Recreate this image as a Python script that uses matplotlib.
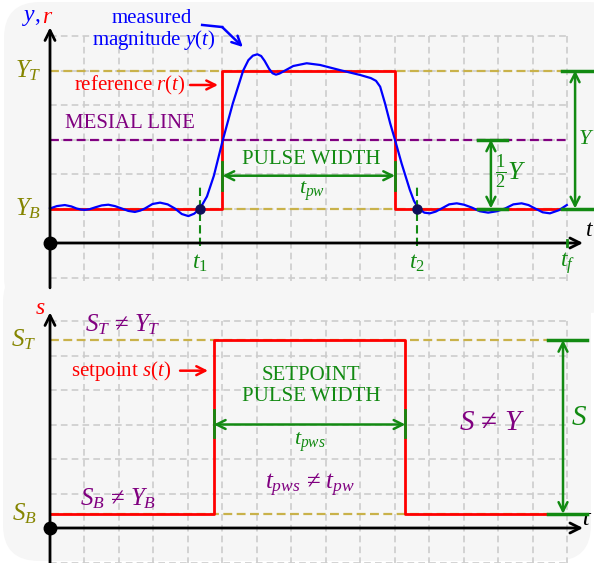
"""
Pulse width: measured magnitude y(t) vs reference r(t), and setpoint s(tau).
"""

import matplotlib.pyplot as plt
from matplotlib.patches import FancyBboxPatch

plt.rcParams['font.family'] = ['Liberation Serif', 'DejaVu Serif']
plt.rcParams['mathtext.fontset'] = 'custom'
plt.rcParams['mathtext.rm'] = 'Liberation Serif'
plt.rcParams['mathtext.it'] = 'Liberation Serif:italic'
plt.rcParams['mathtext.bf'] = 'Liberation Serif:bold'

# --- data (grid units) ---
Y_B, Y_MES, Y_T = 1, 3, 5
t1, t2, tf = 4.35, 10.65, 15

ref_t = [0, 5, 5, 10, 10, 15]
ref_r = [Y_B, Y_B, Y_T, Y_T, Y_B, Y_B]

meas_t = [0.00, 0.20, 0.43, 0.62, 0.77, 0.90, 1.01, 1.15, 1.30, 1.50, 1.69, 1.88,
          2.08, 2.27, 2.46, 2.62, 2.75, 2.97, 3.19, 3.41, 3.62, 3.82, 4.01, 4.18,
          4.35, 4.55, 4.75, 5.00, 5.30, 5.60, 5.75, 5.88, 6.01, 6.12, 6.22, 6.35,
          6.45, 6.55, 6.65, 6.76, 7.05, 7.44, 7.83, 8.41, 8.99, 9.30, 9.45, 9.57,
          9.71, 9.86, 10.00, 10.19, 10.43, 10.55, 10.68, 10.85, 11.01, 11.18, 11.35,
          11.57, 11.79, 12.00, 12.22, 12.46, 12.70, 12.95, 13.19, 13.43, 13.67,
          13.87, 14.06, 14.28, 14.49, 14.75, 14.98]
meas_y = [1.00, 1.07, 1.10, 1.06, 1.00, 0.97, 0.96, 0.98, 1.03, 1.09, 1.11, 1.07,
          1.00, 0.93, 0.90, 0.94, 1.00, 1.13, 1.17, 1.12, 1.00, 0.84, 0.78, 0.85,
          1.00, 1.35, 1.95, 2.95, 4.05, 5.00, 5.30, 5.43, 5.47, 5.42, 5.28, 5.05,
          4.92, 4.88, 4.91, 4.97, 5.13, 5.21, 5.16, 5.01, 4.87, 4.78, 4.70, 4.53,
          4.05, 3.47, 2.99, 2.31, 1.54, 1.22, 1.00, 0.88, 0.86, 0.91, 1.00,
          1.12, 1.15, 1.11, 1.03, 0.92, 0.88, 0.92, 1.00, 1.12, 1.15,
          1.10, 1.00, 0.89, 0.86, 0.95, 1.10]

S_B, S_T = 0.41, 5.45
sp_tau = [0, 4.75, 4.75, 10.3, 10.3, 15]
sp_s = [S_B, S_B, S_T, S_T, S_B, S_B]

# colours
BLUE = '#0000ff'
RED = '#ff0000'
GREEN = '#128a12'
PURPLE = '#800080'
OLIVE = '#858500'
GOLD = '#c9b24a'
GRID = '#cccccc'

W, H = 594, 563
UNIT = 34.5   # px per grid cell
X0 = 50       # px of t = 0

fig = plt.figure(figsize=(W / 100, H / 100), dpi=100)
fig.patch.set_facecolor('white')

# rounded light panels (overlapping, so no gap between them)
for (x, y, w, h) in [(0.04, 2.5, 6.2, 3.11), (0.03, 0.02, 5.88, 2.95)]:
    fig.patches.append(FancyBboxPatch((x, y), w, h, boxstyle='round,pad=0,rounding_size=0.36',
                                      transform=fig.dpi_scale_trans, facecolor='#f6f6f6',
                                      edgecolor='none', zorder=-5))


def panel(top_px, bot_px, axis_px):
    ax = fig.add_axes([0, 1 - bot_px / H, 1, (bot_px - top_px) / H])
    ax.set_xlim(-X0 / UNIT, (W - X0) / UNIT)
    ax.set_ylim((axis_px - bot_px) / UNIT, (axis_px - top_px) / UNIT)
    ax.axis('off')
    # dashed grid
    for k in range(16):
        ax.plot([k, k], [-1.1, 6], color=GRID, lw=1.2, ls=(0, (4, 2.5)), zorder=1)
    for j in range(-1, 7):
        ax.plot([0, 15], [j, j], color=GRID, lw=1.2, ls=(0, (4, 2.5)), zorder=1)
    # axes with arrows
    ax.annotate('', xy=(0, 6.25), xytext=(0, -1.3),
                arrowprops=dict(arrowstyle='->', lw=2, color='k', shrinkA=0, shrinkB=0,
                                mutation_scale=18), zorder=6)
    ax.annotate('', xy=(15.45, 0), xytext=(0, 0),
                arrowprops=dict(arrowstyle='->', lw=2, color='k', shrinkA=0, shrinkB=0,
                                mutation_scale=18), zorder=6)
    ax.plot(0, 0, 'o', color='k', ms=9, zorder=7)
    return ax


def dim_arrow(ax, x1, y1, x2, y2, lw=1.8):
    ax.annotate('', xy=(x2, y2), xytext=(x1, y1),
                arrowprops=dict(arrowstyle='<->', lw=lw, color=GREEN, shrinkA=0, shrinkB=0,
                                mutation_scale=16), zorder=5)


# ================= top panel =================
ax1 = panel(0, 287, 243)

ax1.plot([0, 15], [Y_T, Y_T], color=GOLD, lw=1.6, ls=(0, (4, 2)), zorder=2)
ax1.plot([0, 15], [Y_B, Y_B], color=GOLD, lw=1.6, ls=(0, (4, 2)), zorder=2)
ax1.plot([0, 15], [Y_MES, Y_MES], color=PURPLE, lw=1.6, ls=(0, (4, 2)), zorder=2)

ax1.plot(ref_t, ref_r, color=RED, lw=2, zorder=3)
ax1.plot(meas_t, meas_y, color=BLUE, lw=1.6, zorder=4, solid_joinstyle='round')

# pulse width
dim_arrow(ax1, 5, 1.95, 10, 1.95)
for x in (5, 10):
    ax1.plot([x, x], [1.54, 2.36], color=GREEN, lw=2, zorder=5)
ax1.text(7.57, 2.42, 'PULSE WIDTH', color=GREEN, fontsize=15, ha='center', va='center')
ax1.text(7.6, 1.5, '$t_{pw}$', color=GREEN, fontsize=16, ha='center', va='center')

# t1, t2, tf
for x, lab in [(t1, '$t_{\\mathit{1}}$'), (t2, '$t_{\\mathit{2}}$')]:
    ax1.plot([x, x], [-0.1, 1.63], color=GREEN, lw=1.5, ls=(0, (4, 2)), zorder=5)
    ax1.plot(x, Y_B, 'o', color='#10105a', ms=6.5, zorder=6)
    ax1.text(x, -0.58, lab, color=GREEN, fontsize=17, ha='center', va='center')
ax1.plot([tf, tf], [-0.1, 0.1], color=GREEN, lw=2, zorder=7)
ax1.text(tf, -0.58, '$t_f$', color=GREEN, fontsize=17, ha='center', va='center')
ax1.text(15.5, 0.36, '$t$', color='k', fontsize=17, ha='left', va='center')

# Y and Y/2 dimensions
for y in (Y_T, Y_B):
    ax1.plot([14.84, 15.7], [y, y], color=GREEN, lw=2.5, zorder=5)
dim_arrow(ax1, 15.22, Y_B, 15.22, Y_T)
ax1.text(15.3, 3.0, '$Y$', color=GREEN, fontsize=16, ha='left', va='center')
for y in (Y_MES, Y_B):
    ax1.plot([12.41, 13.25], [y, y], color=GREEN, lw=2.5, zorder=5)
dim_arrow(ax1, 12.78, Y_B, 12.78, Y_MES)
ax1.text(12.9, 2.06, '$\\frac{\\mathit{1}}{\\mathit{2}}Y$', color=GREEN, fontsize=19,
         ha='left', va='center')

# labels
ax1.text(-0.64, Y_T, '$Y_T$', color=OLIVE, fontsize=18, ha='center', va='center')
ax1.text(-0.64, Y_B, '$Y_B$', color=OLIVE, fontsize=18, ha='center', va='center')
ax1.text(-0.81, 6.55, '$y$,', color=BLUE, fontsize=17, ha='left', va='center')
ax1.text(-0.24, 6.55, '$r$', color=RED, fontsize=17, ha='left', va='center')

ax1.text(2.96, 6.5, 'measured', color=BLUE, fontsize=15, ha='center', va='center')
ax1.text(3.0, 5.87, 'magnitude $\\mathit{y(t)}$', color=BLUE, fontsize=15,
         ha='center', va='center')
ax1.plot([4.41, 4.99], [6.32, 6.26], color=BLUE, lw=1.8, zorder=5)
ax1.annotate('', xy=(5.59, 5.68), xytext=(4.99, 6.26),
             arrowprops=dict(arrowstyle='->', lw=1.8, color=BLUE, shrinkA=0, shrinkB=0,
                             mutation_scale=16), zorder=5)

ax1.text(2.32, 4.56, 'reference $\\mathit{r(t)}$', color=RED, fontsize=15,
         ha='center', va='center')
ax1.annotate('', xy=(4.87, 4.58), xytext=(4.06, 4.58),
             arrowprops=dict(arrowstyle='->', lw=1.8, color=RED, shrinkA=0, shrinkB=0,
                             mutation_scale=16), zorder=5)
ax1.text(2.32, 3.45, 'MESIAL LINE', color=PURPLE, fontsize=15, ha='center', va='center')

# ================= bottom panel =================
ax2 = panel(287, 563, 528)

ax2.plot([0, 14.43], [S_T, S_T], color=GOLD, lw=1.6, ls=(0, (4, 2)), zorder=2)
ax2.plot([0, 14.43], [S_B, S_B], color=GOLD, lw=1.6, ls=(0, (4, 2)), zorder=2)
ax2.plot(sp_tau, sp_s, color=RED, lw=2, zorder=3)

dim_arrow(ax2, 4.75, 3.0, 10.3, 3.0)
for x in (4.75, 10.3):
    ax2.plot([x, x], [2.64, 3.42], color=GREEN, lw=2, zorder=5)
ax2.text(7.57, 4.43, 'SETPOINT', color=GREEN, fontsize=15, ha='center', va='center')
ax2.text(7.57, 3.8, 'PULSE WIDTH', color=GREEN, fontsize=15, ha='center', va='center')
ax2.text(7.54, 2.5, '$t_{pws}$', color=GREEN, fontsize=16, ha='center', va='center')

for y in (S_T, S_B):
    ax2.plot([14.43, 15.57], [y, y], color=GREEN, lw=2.5, zorder=5)
dim_arrow(ax2, 14.87, S_B, 14.87, S_T)
ax2.text(15.1, 3.19, '$S$', color=GREEN, fontsize=21, ha='left', va='center')

ax2.text(-0.75, S_T, '$S_T$', color=OLIVE, fontsize=18, ha='center', va='center')
ax2.text(-0.75, S_B, '$S_B$', color=OLIVE, fontsize=18, ha='center', va='center')
ax2.text(-0.29, 6.35, '$s$', color=RED, fontsize=17, ha='center', va='center')
ax2.text(15.38, 0.27, 'τ', color='k', fontsize=19, fontstyle='italic',
         ha='left', va='center')

ax2.text(2.12, 5.88, '$S_T$ ≠ $Y_T$', color=PURPLE, fontsize=18, ha='center', va='center')
ax2.text(1.98, 0.84, '$S_B$ ≠ $Y_B$', color=PURPLE, fontsize=18, ha='center', va='center')
ax2.text(7.54, 1.22, '$t_{pws}$ ≠ $t_{pw}$', color=PURPLE, fontsize=18, ha='center', va='center')
ax2.text(12.8, 3.04, '$S$ ≠ $Y$', color=PURPLE, fontsize=21, ha='center', va='center')

ax2.text(2.06, 4.56, 'setpoint $\\mathit{s(t)}$', color=RED, fontsize=15,
         ha='center', va='center')
ax2.annotate('', xy=(4.58, 4.56), xytext=(3.77, 4.56),
             arrowprops=dict(arrowstyle='->', lw=1.8, color=RED, shrinkA=0, shrinkB=0,
                             mutation_scale=16), zorder=5)

fig.savefig('out.png', dpi=100)
